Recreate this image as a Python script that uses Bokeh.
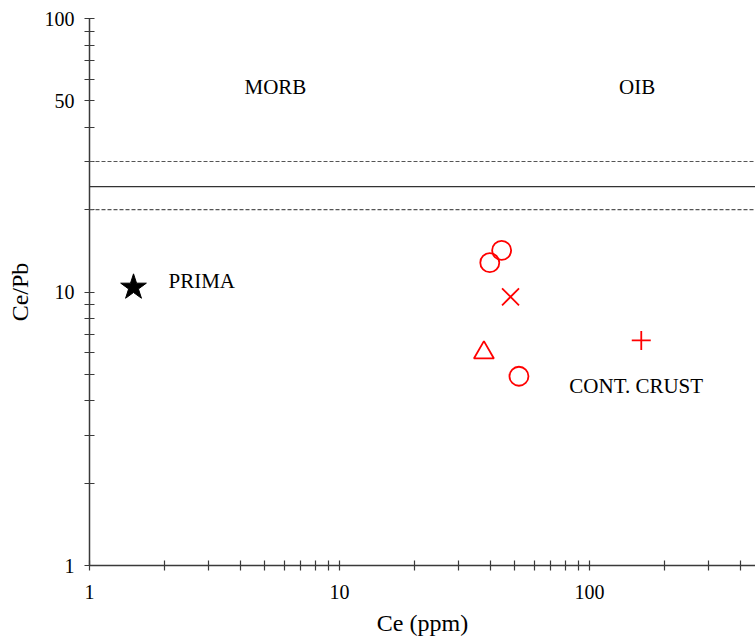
from bokeh.plotting import figure
from bokeh.models import FixedTicker, Span
from bokeh.core.properties import value
from bokeh.embed import file_html
from bokeh.resources import INLINE

# ---- data ----
prima_x = [1.5]
prima_y = [10.4]
circle_x = [44.5, 39.9, 52.2]
circle_y = [14.2, 12.8, 4.92]
cross_x = [48.3]
cross_y = [9.6]
tri_x = [37.8]
tri_y = [6.0]
crust_x = [161.0]
crust_y = [6.65]

ratio_mean = [24.3]
ratio_bounds = [20.0, 30.0]

label_text = ["MORB", "OIB"]
label_x = [5.54, 155.0]
label_y = [56.0, 56.0]
side_text = ["PRIMA", "CONT. CRUST"]
side_x = [2.07, 83.0]
side_y = [11.0, 4.55]

x_major = [1, 10, 100]
x_minor = [2, 3, 4, 5, 6, 7, 8, 9, 20, 30, 40, 50, 60, 70, 80, 90, 200, 300, 400]
y_major = [1, 10, 50, 100]
y_minor = [2, 3, 4, 5, 6, 7, 8, 9, 20, 30, 40, 60, 70, 80, 90]

FONT = "Liberation Serif"
AX = "#3a3a3a"

p = figure(width=755, height=640, x_axis_type="log", y_axis_type="log",
           x_range=(1, 461), y_range=(1, 100),
           output_backend="svg", toolbar_location=None,
           min_border_left=89, min_border_right=0, min_border_top=18,
           min_border_bottom=75)
p.outline_line_color = None
p.xgrid.visible = False
p.ygrid.visible = False
p.background_fill_color = "white"
p.border_fill_color = "white"

p.xaxis.ticker = FixedTicker(ticks=x_major, minor_ticks=x_minor)
p.yaxis.ticker = FixedTicker(ticks=y_major, minor_ticks=y_minor)
p.xaxis.major_label_overrides = {1: "1", 10: "10", 100: "100"}
p.yaxis.major_label_overrides = {1: "1", 10: "10", 50: "50", 100: "100"}

for ax in (p.xaxis[0], p.yaxis[0]):
    ax.axis_line_color = AX
    ax.axis_line_width = 1.5
    ax.major_tick_line_color = AX
    ax.minor_tick_line_color = AX
    ax.major_tick_line_width = 1.2
    ax.minor_tick_line_width = 1.2
    ax.major_tick_in = 5
    ax.major_tick_out = 5
    ax.minor_tick_in = 5
    ax.minor_tick_out = 5
    ax.major_label_text_font = FONT
    ax.major_label_text_font_size = "20px"
    ax.major_label_text_color = "black"
    ax.axis_label_text_font = FONT
    ax.axis_label_text_font_size = "24px"
    ax.axis_label_text_font_style = "normal"
    ax.axis_label_text_color = "black"

p.xaxis.axis_label = "Ce (ppm)"
p.yaxis.axis_label = "Ce/Pb"
p.yaxis.major_label_standoff = 10
p.xaxis.major_label_standoff = 14
p.yaxis.axis_label_standoff = 9
p.xaxis.axis_label_standoff = 8

# reference lines
for v in ratio_mean:
    p.add_layout(Span(location=v, dimension="width", line_color="#333333", line_width=1.3))
for v in ratio_bounds:
    p.add_layout(Span(location=v, dimension="width", line_color="#555555", line_width=1.1,
                      line_dash="4 2"))

# points
p.scatter(prima_x, prima_y, marker="star", size=27, fill_color="black", line_color="black")
p.scatter(circle_x, circle_y, marker="circle", size=19, fill_color=None, line_color="red", line_width=1.8)
p.scatter(cross_x, cross_y, marker="x", size=24, line_color="red", line_width=1.8)
p.scatter(tri_x, tri_y, marker="triangle", size=20, fill_color=None, line_color="red", line_width=1.8)
p.scatter(crust_x, crust_y, marker="cross", size=19, line_color="red", line_width=1.8)

# labels
p.text(label_x, label_y, text=label_text, text_font=value(FONT), text_font_size="21px",
       text_align="center", text_baseline="middle", text_color="black")
p.text(side_x, side_y, text=side_text, text_font=value(FONT), text_font_size="21px",
       text_align="left", text_baseline="middle", text_color="black")

open("out.html", "w").write(file_html(p, INLINE))
